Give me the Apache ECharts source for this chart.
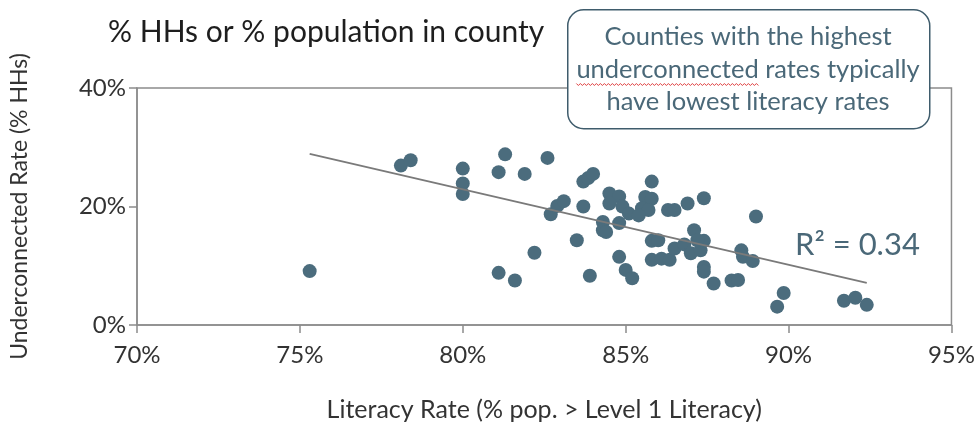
<!DOCTYPE html>
<html>
<head>
<meta charset="utf-8">
<script src="https://cdn.jsdelivr.net/npm/echarts@6/dist/echarts.min.js"></script>
<style>html,body{margin:0;padding:0;background:#fff;}#c{width:978px;height:435px;}</style>
</head>
<body>
<div id="c"></div>
<script>
// Literacy rate (% pop. > Level 1 Literacy)
const literacy = [75.3,78.1,78.4,80.0,80.0,80.0,81.3,81.1,81.1,81.6,82.6,81.9,83.7,83.85,84.0,85.8,82.7,82.9,83.1,83.7,
  84.5,84.8,84.5,84.9,85.1,84.8,84.3,84.3,85.6,85.8,85.5,85.7,85.4,86.3,86.5,86.9,87.4,89.0,83.5,82.2,
  84.8,85.0,85.2,83.9,85.8,86.0,85.8,86.1,86.35,86.5,86.8,87.1,87.0,87.3,87.4,87.4,87.4,87.7,88.25,88.45,
  88.55,88.6,88.9,89.85,89.65,91.7,92.05,92.4,84.4,87.2];
// Underconnected rate (% HHs)
const underconnected = [9.1,26.9,27.8,26.4,23.9,22.1,28.8,25.8,8.8,7.5,28.2,25.5,24.2,24.8,25.5,24.2,18.7,20.1,20.9,20.0,
  22.2,21.7,20.5,20.0,18.8,17.2,17.4,16.0,21.6,21.3,19.7,19.4,18.5,19.4,19.4,20.5,21.4,18.3,14.3,12.2,
  11.5,9.3,7.9,8.3,14.2,14.3,11.0,11.2,11.0,12.9,13.6,16.0,12.1,12.6,14.2,9.8,9.0,7.0,7.5,7.6,
  12.6,11.5,10.8,5.4,3.1,4.1,4.6,3.4,15.7,14.3];
// Trend line endpoints
const trendX = [75.3, 92.4];
const trendY = [28.9, 7.1];
const xTicks = [70,75,80,85,90,95];
const yTicks = [0,20,40];
const titleText = '% HHs or % population in county';
const noteLines = ['Counties with the highest','underconnected rates typically','have lowest literacy rates'];
const r2Text = 'R\u00B2 = 0.34';

const FONT = 'Lato, "Open Sans", sans-serif';
const NOTE_SIZE = 25.5;
const chart = echarts.init(document.getElementById('c'), null, {renderer:'canvas'});
const pts = literacy.map((x,i)=>[x, underconnected[i]]);
const trend = trendX.map((x,i)=>[x, trendY[i]]);
const axisCol = '#8c8c8c';
const noteCol = '#4a6878';

// red wavy spell-check underline below the word "underconnected"
const mctx = document.createElement('canvas').getContext('2d');
mctx.font = NOTE_SIZE + 'px ' + FONT;
const fullW = mctx.measureText(noteLines[1]).width;
const wordW = mctx.measureText('underconnected').width;
const sx0 = 748 - fullW/2, sy0 = 84;
const squiggle = [];
for (let i=0; i*2 <= wordW; i++) squiggle.push([sx0 + i*2, sy0 + (i%2 ? 1.5 : -0.5)]);

chart.setOption({
  animation:false,
  backgroundColor:'#fff',
  title:{text:titleText, left:103, top:12, textStyle:{fontFamily:FONT, fontSize:30, fontWeight:'normal', color:'#1e1e1e'}},
  grid:{left:136, right:26, top:88, bottom:110, show:true, borderColor:axisCol, borderWidth:1.5, backgroundColor:'transparent'},
  xAxis:{type:'value', min:xTicks[0], max:xTicks[xTicks.length-1], interval:5,
    name:'Literacy Rate (% pop. > Level 1 Literacy)', nameLocation:'middle', nameGap:72,
    nameTextStyle:{fontFamily:FONT, fontSize:25, color:'#333'},
    axisLine:{show:true, lineStyle:{color:axisCol, width:1.5}},
    axisTick:{show:true, length:8, lineStyle:{color:axisCol, width:1.5}},
    splitLine:{show:false},
    axisLabel:{fontFamily:FONT, fontSize:24, color:'#333', margin:18, formatter:v=>v+'%'}},
  yAxis:{type:'value', min:yTicks[0], max:yTicks[yTicks.length-1], interval:20,
    name:'Underconnected Rate (% HHs)', nameLocation:'middle', nameGap:106, nameRotate:90,
    nameTextStyle:{fontFamily:FONT, fontSize:23, color:'#333'},
    axisLine:{show:true, lineStyle:{color:axisCol, width:1.5}},
    axisTick:{show:true, length:8, lineStyle:{color:axisCol, width:1.5}},
    splitLine:{show:false},
    axisLabel:{fontFamily:FONT, fontSize:24, color:'#333', margin:11, formatter:v=>v+'%'}},
  series:[
    {type:'line', data:trend, symbol:'none', lineStyle:{color:'#7a7a7a', width:1.8}, z:3, silent:true},
    {type:'scatter', data:pts, symbol:'circle', symbolSize:14, itemStyle:{color:'#4b6c7d', opacity:1}, z:2}
  ],
  graphic:[
    {type:'rect', left:567, top:9, shape:{width:362, height:119, r:16},
     style:{fill:'#fff', stroke:'#3f5c6c', lineWidth:1.5}, z:100},
    {type:'text', x:748, y:37, style:{text:noteLines[0], font:NOTE_SIZE+'px '+FONT, fill:noteCol, align:'center', verticalAlign:'middle'}, z:101},
    {type:'text', x:748, y:70, style:{text:noteLines[1], font:NOTE_SIZE+'px '+FONT, fill:noteCol, align:'center', verticalAlign:'middle'}, z:101},
    {type:'text', x:748, y:102, style:{text:noteLines[2], font:NOTE_SIZE+'px '+FONT, fill:noteCol, align:'center', verticalAlign:'middle'}, z:101},
    {type:'polyline', shape:{points:squiggle}, style:{stroke:'#e04040', lineWidth:1, fill:null}, z:102},
    {type:'text', x:795, y:245, style:{text:r2Text, font:'31px '+FONT, fill:noteCol, align:'left', verticalAlign:'middle'}, z:101}
  ]
});
</script>
</body>
</html>
